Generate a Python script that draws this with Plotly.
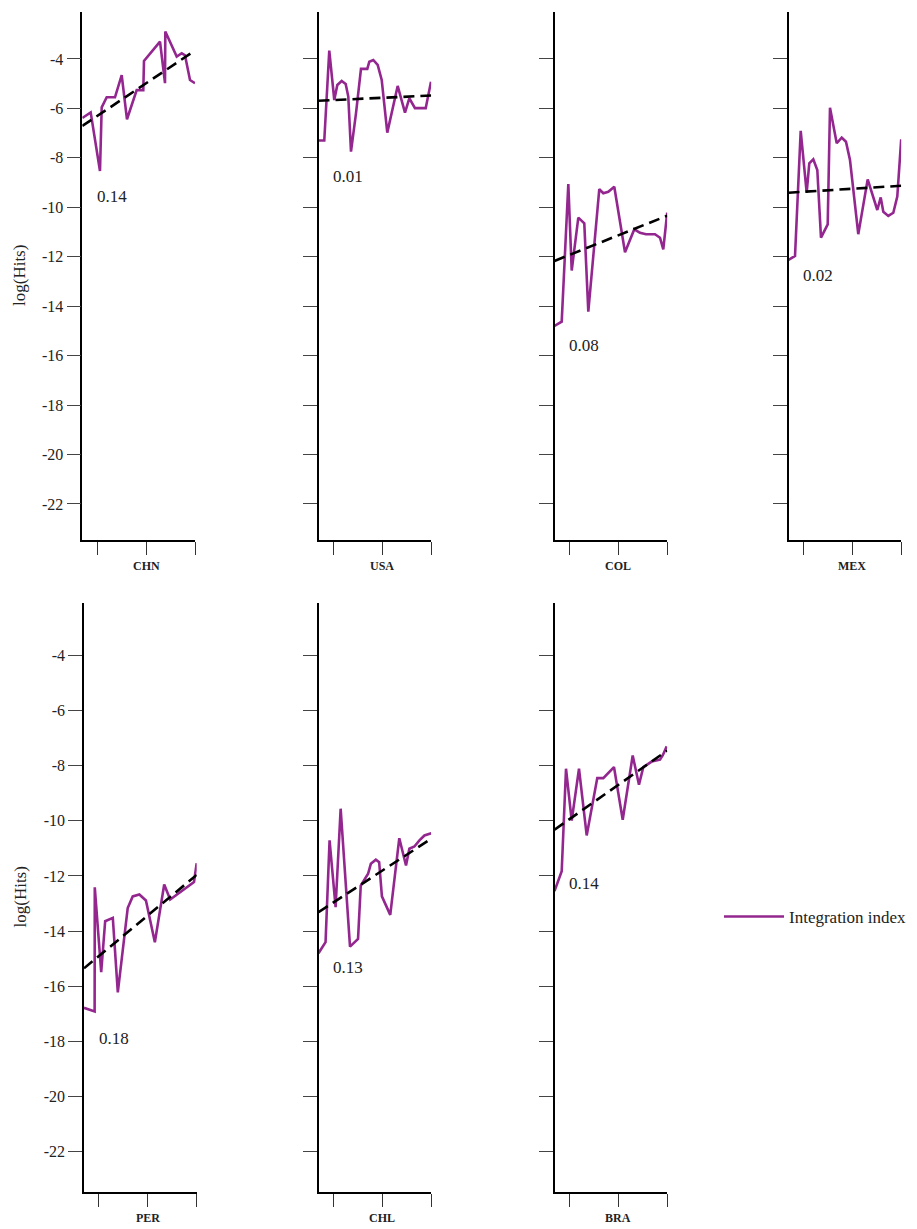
import plotly.graph_objects as go

# ---- data -------------------------------------------------------------
countries = ["CHN", "USA", "COL", "MEX", "PER", "CHL", "BRA"]

chn_x = [1992.0, 1993.71, 1995.61, 1995.96, 1996.98, 1998.67, 2000.04, 2001.12, 2003.10, 2004.45,
         2004.59, 2007.86, 2008.88, 2008.94, 2011.27, 2012.29, 2012.96, 2013.37, 2013.98, 2015.0]
chn_y = [-6.39, -6.16, -8.53, -5.96, -5.55, -5.55, -4.65, -6.44, -5.26, -5.26,
         -4.08, -3.30, -4.98, -2.89, -3.90, -3.77, -3.85, -4.30, -4.85, -4.98]

usa_x = [1992.0, 1993.18, 1994.2, 1995.22, 1995.84, 1996.73, 1997.55, 1998.08, 1998.63, 1999.65,
         2000.67, 2001.96, 2002.37, 2003.18, 2004.08, 2004.9, 2006.04, 2008.16, 2009.65, 2010.53,
         2011.69, 2013.88, 2014.96]
usa_y = [-7.30, -7.30, -3.66, -5.66, -5.05, -4.89, -5.01, -5.52, -7.75, -6.20,
         -4.40, -4.40, -4.11, -4.04, -4.24, -4.85, -6.98, -5.09, -6.17, -5.59,
         -5.99, -5.99, -4.92]

col_x = [1992.0, 1993.47, 1994.82, 1995.51, 1996.86, 1998.08, 1998.9, 2001.14, 2001.96, 2002.98,
         2004.2, 2006.39, 2008.29, 2009.45, 2010.67, 2012.51, 2013.53, 2014.2, 2015.0]
col_y = [-14.80, -14.63, -9.06, -12.56, -10.42, -10.65, -14.22, -9.27, -9.43, -9.37,
         -9.17, -11.82, -10.89, -11.03, -11.09, -11.09, -11.23, -11.70, -10.22]

mex_x = [1992.0, 1993.33, 1994.49, 1995.71, 1996.24, 1997.06, 1997.88, 1998.63, 2000.0, 2000.47,
         2001.84, 2002.86, 2003.73, 2004.55, 2006.24, 2008.16, 2010.12, 2010.82, 2011.35, 2012.37,
         2013.39, 2014.2, 2015.0]
mex_y = [-12.13, -11.97, -6.91, -9.41, -8.22, -8.06, -8.49, -11.23, -10.69, -5.97,
         -7.41, -7.18, -7.35, -8.09, -11.09, -8.87, -10.11, -9.60, -10.18, -10.35,
         -10.22, -9.57, -7.25]

per_x = [1992.0, 1994.17, 1994.2, 1995.51, 1996.32, 1997.88, 1998.9, 2000.92, 2001.94, 2003.3,
         2004.64, 2006.46, 2008.37, 2009.59, 2014.45, 2015.0]
per_y = [-16.78, -16.91, -12.41, -15.49, -13.64, -13.52, -16.22, -13.16, -12.74, -12.67,
         -12.89, -14.40, -12.31, -12.85, -12.22, -11.54]

chl_x = [1992.0, 1993.44, 1994.26, 1995.49, 1996.52, 1998.43, 2000.07, 2000.62, 2002.12, 2002.68,
         2003.70, 2004.38, 2004.94, 2006.64, 2008.49, 2009.86, 2010.54, 2011.57, 2012.6, 2013.62,
         2015.0]
chl_y = [-14.80, -14.40, -10.71, -13.13, -9.56, -14.56, -14.28, -12.35, -11.92, -11.56,
         -11.41, -11.50, -12.74, -13.41, -10.63, -11.62, -11.01, -10.93, -10.71, -10.53,
         -10.45]

bra_x = [1992.0, 1993.47, 1994.35, 1995.51, 1997.0, 1998.57, 2000.73, 2001.96, 2004.14, 2005.92,
         2007.96, 2009.24, 2010.12, 2011.84, 2013.53, 2014.08, 2014.9]
bra_y = [-12.55, -11.83, -8.11, -9.99, -8.11, -10.53, -8.45, -8.45, -8.05, -9.96,
         -7.63, -8.69, -8.05, -7.85, -7.78, -7.63, -7.30]

series_x = [chn_x, usa_x, col_x, mex_x, per_x, chl_x, bra_x]
series_y = [chn_y, usa_y, col_y, mex_y, per_y, chl_y, bra_y]

# fitted trend: value at the first and at the last year
trend_start = [-6.71, -5.69, -12.17, -9.41, -15.35, -13.31, -10.32]
trend_end = [-3.66, -5.48, -10.34, -9.13, -11.96, -10.65, -7.45]
trend_years = [1992, 2015]

# slope coefficient printed in each panel, and where it sits
slope_text = ["0.14", "0.01", "0.08", "0.02", "0.18", "0.13", "0.14"]
slope_pos_y = [-9.58, -8.77, -15.61, -12.74, -17.90, -15.32, -12.27]
slope_pos_x = 1998.1

y_ticks = list(range(-22, -3, 2))
x_ticks = [1995, 2005, 2015]
y_range = [-23.46, -2.1]
x_range = [1992, 2015]

# ---- layout geometry (pixels) ----------------------------------------
W, H = 917, 1229
panel_left = [82.3, 318.5, 554.5, 788.5, 84.0, 318.5, 554.5]
panel_w = 112.7
row_top = [(12, 540)] * 4 + [(603, 1192)] * 3

PURPLE = "#93278f"
FONT = "Liberation Serif"

fig = go.Figure()
layout = {}
annotations = []

for i, name in enumerate(countries):
    n = i + 1
    xa = "x" if n == 1 else f"x{n}"
    ya = "y" if n == 1 else f"y{n}"
    x0 = panel_left[i]
    t, b = row_top[i]
    xdom = [x0 / W, (x0 + panel_w) / W]
    ydom = [1 - b / H, 1 - t / H]

    fig.add_trace(go.Scatter(
        x=series_x[i], y=series_y[i], mode="lines",
        line=dict(color=PURPLE, width=2.6),
        name="Integration index", showlegend=(i == 0),
        xaxis=xa, yaxis=ya, hoverinfo="skip"))
    fig.add_trace(go.Scatter(
        x=trend_years, y=[trend_start[i], trend_end[i]], mode="lines",
        line=dict(color="black", width=2.6, dash="11px,6px"),
        showlegend=False, xaxis=xa, yaxis=ya, hoverinfo="skip"))

    left_col = i in (0, 4)
    layout["xaxis" if n == 1 else f"xaxis{n}"] = dict(
        domain=xdom, range=x_range, anchor=ya,
        showgrid=False, zeroline=False, showline=True, linecolor="black", linewidth=1.5,
        ticks="outside", ticklen=13, tickwidth=1.2, tickcolor="#333",
        tickvals=x_ticks, showticklabels=False)
    layout["yaxis" if n == 1 else f"yaxis{n}"] = dict(
        domain=ydom, range=y_range, anchor=xa,
        showgrid=False, zeroline=False, showline=True, linecolor="black", linewidth=1.5,
        ticks="outside", ticklen=14, tickwidth=1.2, tickcolor="#444",
        tickvals=y_ticks, ticktext=[str(v) for v in y_ticks],
        showticklabels=left_col, tickfont=dict(family=FONT, size=16, color="#222"))

    annotations.append(dict(
        x=slope_pos_x, y=slope_pos_y[i], xref=xa, yref=ya, text=slope_text[i],
        xanchor="center", yanchor="middle",
        showarrow=False, font=dict(family=FONT, size=17, color="#222")))
    annotations.append(dict(
        x=(x0 + panel_w * 13 / 23) / W, y=1 - (b + 26) / H, xref="paper", yref="paper",
        text=f"<b>{name}</b>", xanchor="center", yanchor="middle", showarrow=False,
        font=dict(family=FONT, size=12, color="#222")))

for t, b in [(12, 540), (603, 1192)]:
    annotations.append(dict(
        x=20 / W, y=1 - (t + b) / 2 / H, xref="paper", yref="paper",
        text="log(Hits)", textangle=-90, xanchor="center", yanchor="middle",
        showarrow=False, font=dict(family=FONT, size=17, color="#222")))

fig.update_layout(
    width=W, height=H,
    margin=dict(l=0, r=0, t=0, b=0),
    paper_bgcolor="white", plot_bgcolor="white",
    annotations=annotations,
    legend=dict(x=719 / W, y=1 - 917 / H, xanchor="left", yanchor="middle",
                font=dict(family=FONT, size=17, color="#222"),
                itemwidth=60, bgcolor="rgba(0,0,0,0)"),
    **layout)

fig.write_html("out.html")
